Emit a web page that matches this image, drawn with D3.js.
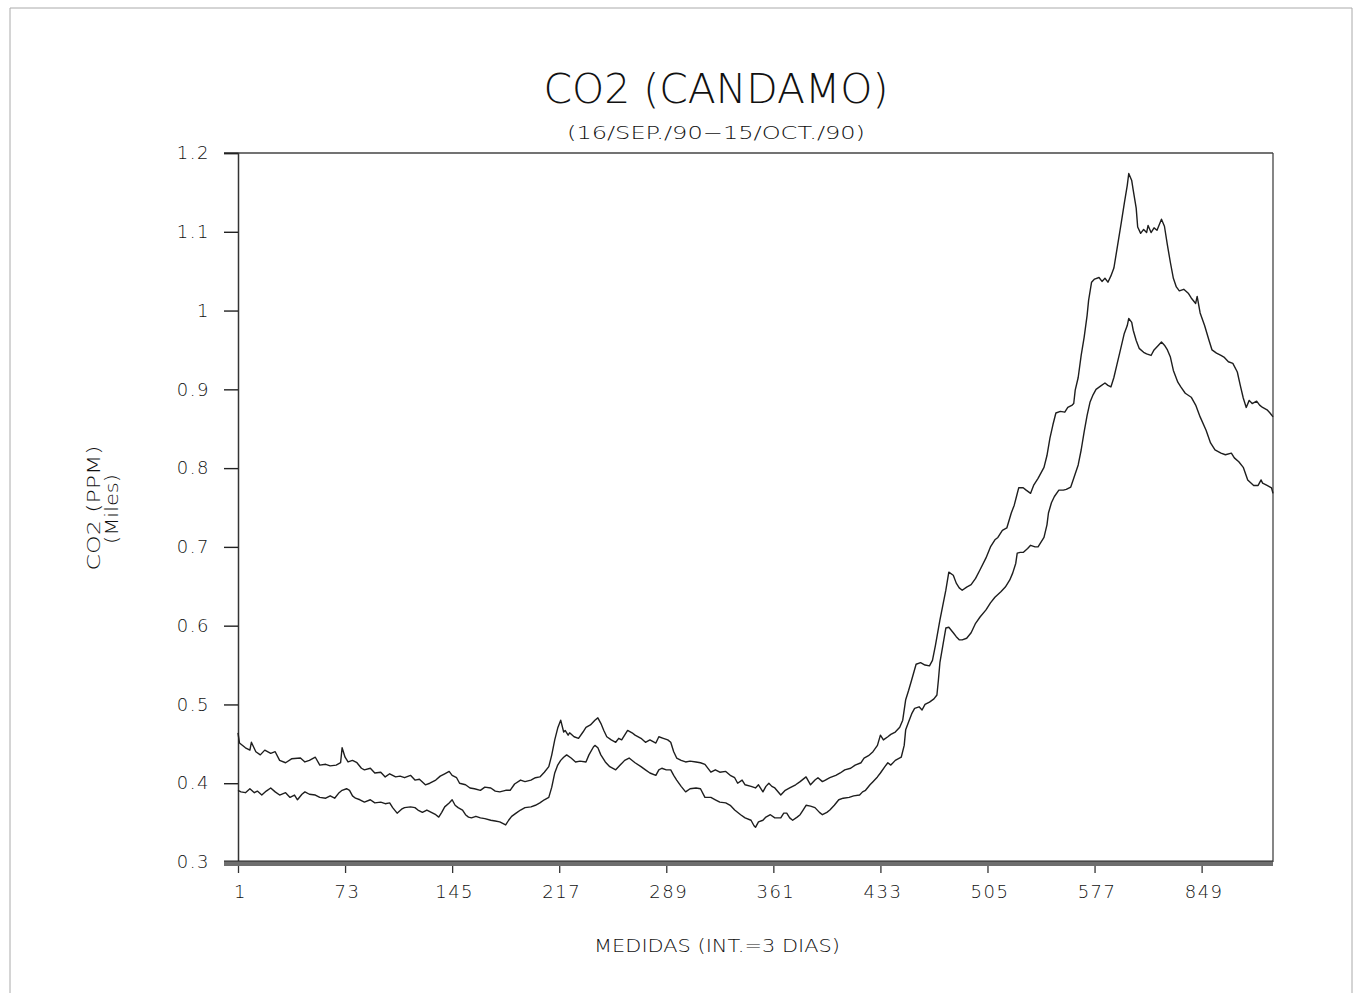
<!DOCTYPE html>
<html>
<head>
<meta charset="utf-8">
<script src="https://cdn.jsdelivr.net/npm/d3@7/dist/d3.min.js"></script>
<style>
  html, body { margin: 0; padding: 0; background: #fff; }
  svg { display: block; }
  text { font-family: "DejaVu Sans", "Liberation Sans", sans-serif; fill: #111; }
</style>
</head>
<body>
<svg id="chart" width="1357" height="993"></svg>
<script>
// ---------- data ----------
const titleText = "CO2  (CANDAMO)";
const subtitleText = "(16/SEP./90\u221215/OCT./90)";
const yTitle1 = "CO2  (PPM)";
const yTitle2 = "(Miles)";
const xTitle = "MEDIDAS  (INT.=3  DIAS)";

const xTickValues = [1, 73, 145, 217, 289, 361, 433, 505, 577, 649];
const xTickLabels = ["1", "73", "145", "217", "289", "361", "433", "505", "577", "849"];
const yTickValues = [0.3, 0.4, 0.5, 0.6, 0.7, 0.8, 0.9, 1.0, 1.1, 1.2];
const yTickLabels = ["0.3", "0.4", "0.5", "0.6", "0.7", "0.8", "0.9", "1", "1.1", "1.2"];
const xDomain = [1, 697];
const yDomain = [0.3, 1.2];

// [measure number, CO2 (ppm, thousands)]
const upperSeries = [[1,0.464],[2,0.451],[6,0.445],[9,0.442],[10,0.452],[13,0.440],[16,0.436],[19,0.442],[23,0.438],[26,0.440],[29,0.429],[33,0.426],[37,0.431],[43,0.432],[46,0.427],[49,0.429],[53,0.433],[56,0.423],[60,0.424],[63,0.422],[67,0.423],[70,0.426],[71,0.445],[73,0.433],[75,0.427],[78,0.429],[81,0.426],[84,0.419],[86,0.417],[90,0.419],[93,0.413],[97,0.414],[100,0.408],[103,0.412],[107,0.408],[110,0.409],[113,0.407],[117,0.410],[120,0.404],[123,0.405],[127,0.398],[130,0.400],[134,0.404],[137,0.409],[140,0.412],[143,0.415],[145,0.410],[148,0.407],[150,0.400],[154,0.398],[157,0.394],[160,0.393],[164,0.391],[167,0.395],[171,0.394],[174,0.390],[177,0.389],[181,0.391],[184,0.391],[187,0.399],[191,0.404],[194,0.402],[198,0.404],[201,0.407],[204,0.408],[207,0.414],[210,0.421],[212,0.436],[214,0.455],[216,0.470],[218,0.480],[220,0.465],[221,0.467],[223,0.461],[224,0.464],[227,0.459],[230,0.457],[233,0.465],[235,0.471],[238,0.474],[241,0.480],[243,0.483],[245,0.476],[247,0.467],[249,0.459],[252,0.455],[255,0.452],[257,0.457],[259,0.455],[263,0.467],[266,0.464],[268,0.461],[272,0.457],[275,0.452],[278,0.455],[282,0.451],[284,0.459],[287,0.457],[290,0.455],[292,0.452],[294,0.440],[296,0.432],[299,0.429],[302,0.427],[305,0.428],[309,0.427],[312,0.426],[315,0.424],[319,0.414],[322,0.417],[325,0.414],[329,0.415],[332,0.410],[335,0.407],[337,0.400],[340,0.404],[342,0.398],[346,0.396],[349,0.394],[351,0.398],[354,0.389],[356,0.396],[358,0.400],[360,0.396],[362,0.394],[366,0.385],[369,0.391],[372,0.394],[376,0.398],[379,0.402],[383,0.408],[386,0.398],[389,0.404],[391,0.407],[394,0.402],[396,0.404],[399,0.407],[403,0.410],[406,0.413],[409,0.417],[413,0.419],[416,0.423],[420,0.426],[422,0.432],[425,0.435],[428,0.440],[431,0.448],[433,0.461],[435,0.455],[438,0.459],[440,0.462],[443,0.465],[446,0.471],[448,0.480],[450,0.506],[452,0.518],[454,0.531],[457,0.551],[460,0.553],[463,0.550],[466,0.549],[468,0.556],[470,0.575],[473,0.607],[475,0.626],[477,0.645],[479,0.668],[482,0.664],[484,0.654],[486,0.648],[488,0.645],[491,0.649],[494,0.652],[497,0.660],[500,0.671],[504,0.686],[507,0.700],[510,0.709],[512,0.712],[515,0.721],[518,0.724],[521,0.743],[523,0.753],[526,0.775],[529,0.775],[531,0.772],[534,0.768],[536,0.778],[539,0.787],[543,0.801],[545,0.816],[547,0.838],[549,0.855],[551,0.870],[554,0.872],[557,0.871],[559,0.877],[562,0.880],[563,0.882],[564,0.899],[566,0.915],[568,0.943],[570,0.966],[572,0.994],[573,1.013],[575,1.036],[577,1.040],[580,1.042],[582,1.037],[584,1.041],[586,1.036],[588,1.044],[590,1.054],[592,1.077],[595,1.112],[597,1.136],[599,1.159],[600,1.174],[602,1.165],[603,1.153],[605,1.130],[606,1.106],[608,1.098],[610,1.103],[612,1.099],[613,1.108],[615,1.099],[617,1.105],[619,1.102],[622,1.116],[624,1.107],[626,1.083],[628,1.061],[630,1.041],[632,1.030],[634,1.025],[637,1.027],[640,1.022],[642,1.016],[645,1.009],[646,1.018],[648,0.997],[651,0.981],[654,0.962],[656,0.950],[659,0.946],[662,0.943],[664,0.941],[667,0.935],[670,0.933],[673,0.922],[675,0.905],[677,0.889],[679,0.877],[681,0.886],[683,0.882],[686,0.885],[688,0.880],[690,0.877],[693,0.874],[695,0.870],[697,0.865]];

const lowerSeries = [[1,0.391],[3,0.389],[6,0.388],[9,0.393],[12,0.388],[14,0.390],[17,0.385],[20,0.390],[23,0.394],[26,0.389],[29,0.385],[33,0.388],[36,0.382],[39,0.385],[41,0.379],[44,0.386],[46,0.389],[49,0.386],[53,0.385],[56,0.382],[60,0.381],[63,0.384],[66,0.381],[69,0.388],[71,0.391],[74,0.393],[76,0.391],[78,0.384],[80,0.381],[83,0.379],[86,0.376],[90,0.379],[93,0.375],[97,0.376],[100,0.374],[103,0.375],[105,0.369],[108,0.362],[111,0.367],[113,0.369],[117,0.370],[120,0.369],[122,0.366],[125,0.363],[128,0.366],[132,0.362],[134,0.360],[136,0.357],[138,0.363],[140,0.370],[143,0.375],[145,0.379],[147,0.372],[149,0.369],[152,0.366],[154,0.360],[156,0.357],[158,0.356],[161,0.358],[164,0.356],[167,0.355],[171,0.353],[174,0.352],[177,0.351],[181,0.347],[183,0.353],[185,0.358],[188,0.362],[191,0.366],[194,0.369],[198,0.370],[201,0.372],[204,0.375],[207,0.379],[210,0.382],[212,0.395],[214,0.413],[216,0.423],[218,0.429],[220,0.433],[222,0.436],[225,0.432],[228,0.427],[231,0.428],[235,0.427],[237,0.436],[240,0.446],[241,0.448],[243,0.445],[245,0.436],[248,0.427],[251,0.421],[255,0.417],[258,0.423],[261,0.429],[264,0.432],[268,0.426],[272,0.421],[275,0.417],[278,0.413],[282,0.410],[284,0.417],[286,0.419],[289,0.417],[292,0.417],[294,0.410],[296,0.404],[299,0.396],[302,0.389],[305,0.393],[309,0.394],[312,0.393],[315,0.382],[319,0.382],[322,0.379],[325,0.376],[329,0.375],[332,0.372],[335,0.366],[339,0.360],[342,0.356],[346,0.353],[348,0.346],[349,0.344],[351,0.351],[354,0.353],[356,0.357],[359,0.360],[362,0.356],[366,0.356],[368,0.362],[370,0.362],[372,0.356],[374,0.353],[377,0.357],[379,0.360],[381,0.366],[383,0.372],[386,0.371],[389,0.369],[392,0.363],[394,0.360],[397,0.363],[399,0.366],[402,0.372],[405,0.379],[408,0.381],[412,0.382],[415,0.384],[419,0.385],[421,0.389],[423,0.391],[426,0.398],[428,0.402],[431,0.408],[433,0.413],[436,0.421],[438,0.426],[440,0.423],[443,0.429],[447,0.433],[449,0.448],[450,0.468],[452,0.478],[454,0.488],[456,0.495],[459,0.497],[461,0.493],[463,0.500],[466,0.503],[469,0.507],[471,0.512],[472,0.531],[473,0.553],[475,0.575],[477,0.597],[479,0.598],[482,0.591],[484,0.586],[486,0.582],[488,0.582],[491,0.584],[494,0.591],[497,0.603],[500,0.611],[504,0.620],[507,0.629],[510,0.636],[514,0.643],[517,0.649],[520,0.658],[522,0.667],[524,0.679],[525,0.692],[527,0.693],[529,0.693],[532,0.698],[534,0.702],[537,0.700],[539,0.700],[541,0.706],[543,0.712],[545,0.728],[546,0.743],[548,0.756],[550,0.764],[553,0.772],[556,0.772],[558,0.773],[561,0.776],[563,0.787],[566,0.804],[568,0.823],[570,0.846],[572,0.867],[574,0.884],[576,0.893],[578,0.900],[581,0.904],[584,0.908],[586,0.905],[588,0.903],[590,0.915],[592,0.931],[594,0.947],[597,0.971],[599,0.981],[600,0.990],[602,0.985],[603,0.975],[605,0.962],[607,0.952],[610,0.947],[612,0.945],[615,0.943],[617,0.950],[620,0.956],[622,0.960],[624,0.956],[626,0.950],[628,0.941],[630,0.924],[633,0.909],[635,0.903],[638,0.895],[642,0.890],[645,0.880],[648,0.865],[652,0.848],[655,0.832],[658,0.823],[662,0.819],[665,0.817],[669,0.819],[671,0.813],[674,0.808],[677,0.801],[680,0.785],[684,0.778],[687,0.778],[689,0.785],[690,0.781],[693,0.778],[696,0.775],[697,0.768]];

// ---------- layout ----------
const W = 1357, H = 993;
const plot = { left: 238, right: 1273, top: 153, bottom: 862 };

const svg = d3.select("#chart");
svg.append("rect").attr("width", W).attr("height", H).attr("fill", "#fff");

// scanned page border
svg.append("path")
  .attr("d", `M10,${H} L10,8 L1352,8 L1352,${H}`)
  .attr("fill", "none").attr("stroke", "#aaa").attr("stroke-width", 1);

const x = d3.scaleLinear().domain(xDomain).range([plot.left, plot.right]);
const y = d3.scaleLinear().domain(yDomain).range([plot.bottom, plot.top]);

// titles
svg.append("text").attr("x", 716).attr("y", 103).attr("text-anchor", "middle")
  .attr("font-size", 40).attr("font-weight", 200)
  .attr("textLength", 345).attr("lengthAdjust", "spacingAndGlyphs")
  .text(titleText);
svg.append("text").attr("x", 716).attr("y", 139).attr("text-anchor", "middle")
  .attr("font-size", 18).attr("font-weight", 200)
  .attr("textLength", 298).attr("lengthAdjust", "spacingAndGlyphs")
  .text(subtitleText);

// frame: top and right lines
svg.append("line").attr("x1", plot.left - 14).attr("x2", plot.right)
  .attr("y1", plot.top).attr("y2", plot.top)
  .attr("stroke", "#444").attr("stroke-width", 1.3);
svg.append("line").attr("x1", plot.right).attr("x2", plot.right)
  .attr("y1", plot.top).attr("y2", plot.bottom)
  .attr("stroke", "#444").attr("stroke-width", 1.3);

// Y axis
const yAxis = d3.axisLeft(y).tickValues(yTickValues)
  .tickSize(14).tickPadding(14)
  .tickFormat((d, i) => yTickLabels[i]);
const gy = svg.append("g").attr("transform", `translate(${plot.left},0)`).call(yAxis);
gy.select(".domain").attr("stroke", "#333").attr("stroke-width", 1.5);
gy.selectAll(".tick line").attr("stroke", "#222").attr("stroke-width", 1.4);
gy.selectAll(".tick text").attr("font-size", 18).attr("font-weight", 200)
  .attr("letter-spacing", 1.5)
  .attr("font-family", "DejaVu Sans, sans-serif").attr("fill", "#000");

// X axis (thick hatched baseline)
svg.append("rect").attr("x", plot.left - 14).attr("y", plot.bottom - 1)
  .attr("width", plot.right - plot.left + 14).attr("height", 5)
  .attr("fill", "#6e6e6e");
svg.append("line").attr("x1", plot.left - 14).attr("x2", plot.right)
  .attr("y1", plot.bottom - 1).attr("y2", plot.bottom - 1)
  .attr("stroke", "#222").attr("stroke-width", 1);
const xAxis = d3.axisBottom(x).tickValues(xTickValues)
  .tickSize(7).tickPadding(12)
  .tickFormat((d, i) => xTickLabels[i]);
const gx = svg.append("g").attr("transform", `translate(0,${plot.bottom + 4})`).call(xAxis);
gx.select(".domain").remove();
gx.selectAll(".tick line").attr("stroke", "#333").attr("stroke-width", 1.3);
gx.selectAll(".tick text").attr("font-size", 18).attr("font-weight", 200)
  .attr("letter-spacing", 1.5).attr("dx", 2)
  .attr("font-family", "DejaVu Sans, sans-serif").attr("fill", "#000");

// axis titles
svg.append("text").attr("transform", "translate(100,508) rotate(-90)")
  .attr("text-anchor", "middle").attr("font-size", 17).attr("font-weight", 200)
  .attr("textLength", 125).attr("lengthAdjust", "spacingAndGlyphs")
  .attr("fill", "#000")
  .text(yTitle1);
svg.append("text").attr("transform", "translate(118,509) rotate(-90)")
  .attr("text-anchor", "middle").attr("font-size", 17).attr("font-weight", 200)
  .attr("textLength", 70).attr("lengthAdjust", "spacingAndGlyphs")
  .attr("fill", "#000")
  .text(yTitle2);
svg.append("text").attr("x", 717).attr("y", 952).attr("text-anchor", "middle")
  .attr("font-size", 18).attr("font-weight", 200)
  .attr("textLength", 246).attr("lengthAdjust", "spacingAndGlyphs")
  .attr("fill", "#000")
  .text(xTitle);

// series
const line = d3.line().x(d => x(d[0])).y(d => y(d[1])).curve(d3.curveLinear);
[upperSeries, lowerSeries].forEach(s => {
  svg.append("path").datum(s).attr("d", line)
    .attr("fill", "none").attr("stroke", "#1e1e1e")
    .attr("stroke-width", 1.4).attr("stroke-linejoin", "round");
});
</script>
</body>
</html>
